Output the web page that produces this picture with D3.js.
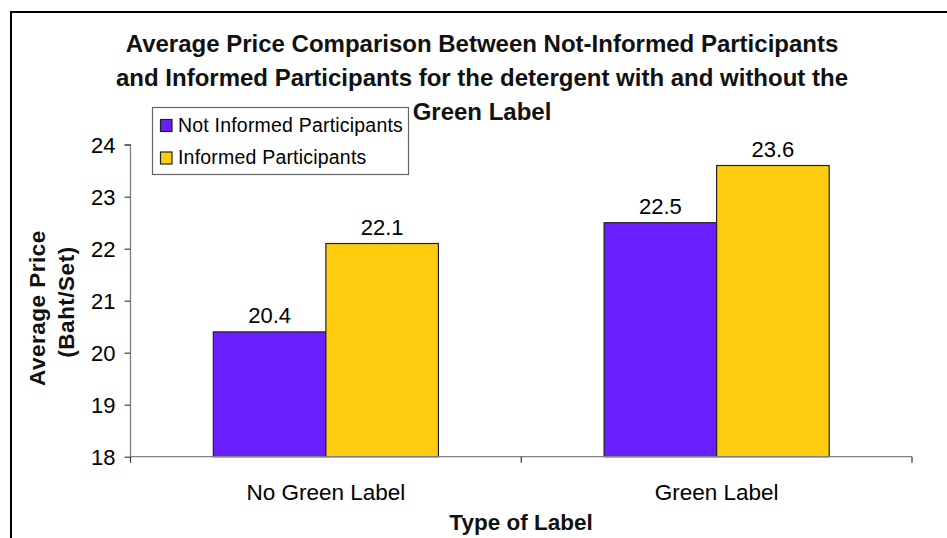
<!DOCTYPE html>
<html>
<head>
<meta charset="utf-8">
<script src="https://cdn.jsdelivr.net/npm/d3@7"></script>
<style>
html,body{margin:0;padding:0;background:#fff;}
svg{display:block;font-family:Arial,"Liberation Sans",sans-serif;}
</style>
</head>
<body>
<svg id="chart" width="947" height="538"></svg>
<script>
const categories = ["No Green Label", "Green Label"];
const seriesNames = ["Not Informed Participants", "Informed Participants"];
const notInformed = [20.4, 22.5];
const informed = [22.1, 23.6];
const yTicks = [18, 19, 20, 21, 22, 23, 24];
const titleLines = [
  "Average Price Comparison Between Not-Informed Participants",
  "and Informed Participants for the detergent with and without the",
  "Green Label"
];
const colors = ["#6a1fff", "#ffcc0f"];

const svg = d3.select("#chart");
const W = 947, H = 538;
const plot = {left: 130.5, right: 912, top: 144.7, bottom: 456.7};

// outer frame (left and top edges)
svg.append("path")
  .attr("d", `M11,${H} L11,12 L${W},12`)
  .attr("fill", "none").attr("stroke", "#000").attr("stroke-width", 2);

const x0 = d3.scaleBand().domain(categories).range([plot.left, plot.right]).paddingInner(0).paddingOuter(0);
const x1 = d3.scaleBand().domain(d3.range(2)).range([0, x0.bandwidth()]).paddingInner(0).paddingOuter(0.736);
const y = d3.scaleLinear().domain([18, 24]).range([plot.bottom, plot.top]);

// bars
const data = categories.map((c, i) => ({cat: c, vals: [notInformed[i], informed[i]]}));
const groups = svg.append("g").selectAll("g").data(data).join("g")
  .attr("transform", d => `translate(${x0(d.cat)},0)`);
groups.selectAll("rect").data(d => d.vals.map((v, j) => ({v, j}))).join("rect")
  .attr("x", d => x1(d.j))
  .attr("y", d => y(d.v))
  .attr("width", x1.bandwidth())
  .attr("height", d => plot.bottom - y(d.v))
  .attr("fill", d => colors[d.j])
  .attr("stroke", "#222").attr("stroke-width", 1.2);
groups.selectAll("text").data(d => d.vals.map((v, j) => ({v, j}))).join("text")
  .attr("x", d => x1(d.j) + x1.bandwidth() / 2)
  .attr("y", d => y(d.v) - 9)
  .attr("text-anchor", "middle")
  .attr("font-size", 22)
  .attr("fill", "#000")
  .text(d => d.v.toFixed(1));

// y axis
const yAxis = d3.axisLeft(y).tickValues(yTicks).tickSize(6).tickPadding(9).tickFormat(d3.format("d"));
const gy = svg.append("g").attr("transform", `translate(${plot.left},0)`).call(yAxis);
gy.select(".domain").attr("stroke", "#808080").attr("stroke-width", 1.3).attr("d", `M-6,${plot.top}H0V${plot.bottom}`);
gy.selectAll(".tick line").attr("stroke", "#444").attr("stroke-width", 1.2);
gy.selectAll(".tick text").attr("font-size", 22).attr("fill", "#000").attr("font-family", "Arial,'Liberation Sans',sans-serif").attr("dy", "0.36em");

// x axis
const xAxis = d3.axisBottom(x0).tickSize(0).tickPadding(0);
const gx = svg.append("g").attr("transform", `translate(0,${plot.bottom})`).call(xAxis);
gx.select(".domain").attr("stroke", "#808080").attr("stroke-width", 1.3).attr("d", `M${plot.left},0H${plot.right}`);
gx.selectAll(".tick text").attr("font-size", 22.5).attr("fill", "#000").attr("font-family", "Arial,'Liberation Sans',sans-serif").attr("y", 43).attr("dy", 0);
// category boundary ticks
const bounds = [plot.left, x0(categories[1]), plot.right];
svg.append("g").selectAll("line").data(bounds).join("line")
  .attr("x1", d => d).attr("x2", d => d)
  .attr("y1", plot.bottom).attr("y2", plot.bottom + 6)
  .attr("stroke", "#333").attr("stroke-width", 1.2);

// title
svg.append("g").selectAll("text").data(titleLines).join("text")
  .attr("x", 482).attr("y", (d, i) => 52 + i * 34)
  .attr("text-anchor", "middle").attr("font-weight", "bold").attr("font-size", 24)
  .attr("fill", "#111")
  .text(d => d);

// axis titles
svg.append("text").attr("x", 521).attr("y", 530).attr("text-anchor", "middle")
  .attr("font-weight", "bold").attr("font-size", 22.5).attr("fill", "#111").text("Type of Label");
svg.append("text").attr("transform", "translate(44.5,308) rotate(-90)").attr("text-anchor", "middle")
  .attr("font-weight", "bold").attr("font-size", 22.5).attr("fill", "#111").attr("letter-spacing", 0.5).text("Average Price");
svg.append("text").attr("transform", "translate(73.5,302) rotate(-90)").attr("text-anchor", "middle")
  .attr("font-weight", "bold").attr("font-size", 22.5).attr("fill", "#111").attr("letter-spacing", 0.5).text("(Baht/Set)");

// legend
const lg = svg.append("g");
lg.append("rect").attr("x", 152.5).attr("y", 107.5).attr("width", 256).attr("height", 67)
  .attr("fill", "#fff").attr("stroke", "#666").attr("stroke-width", 1.2);
const items = lg.selectAll("g").data(seriesNames).join("g")
  .attr("transform", (d, i) => `translate(0,${i * 32.5})`);
items.append("rect").attr("x", 160.5).attr("y", 119.5).attr("width", 11.5).attr("height", 12)
  .attr("fill", (d, i) => colors[i]).attr("stroke", "#222").attr("stroke-width", 1.2);
items.append("text").attr("x", 178).attr("y", 131.5).attr("font-size", 19.5).attr("letter-spacing", 0.2).attr("fill", "#000").text(d => d);
</script>
</body>
</html>
